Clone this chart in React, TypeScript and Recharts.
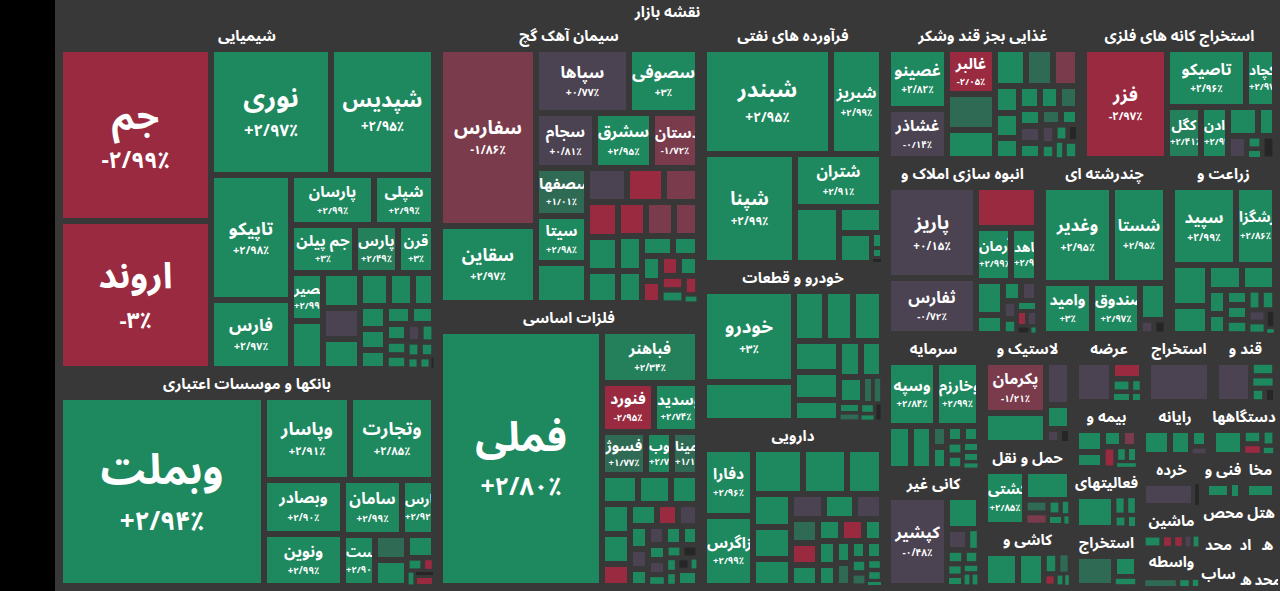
import React from 'react'
import { Treemap } from 'recharts'

// [symbol, size, change %]  (change null = no trade)
type Leaf = [string, number, number | null]

const FONT = '"Noto Sans Arabic", "DejaVu Sans", sans-serif'
const PHI = 0.5 * (1 + Math.sqrt(5))

// change levels
const G = 2.9
const g = 1.5
const P = 0.2
const r = -1.5
const R = -2.9
const D = null

const chemicals: Leaf[] = [
  ['جم', 26.0, -2.99], ['اروند', 22.3, -3], ['نوری', 15.2, 2.97], ['شپدیس', 12.9, 2.95],
  ['تاپیکو', 10.0, 2.98], ['فارس', 5.6, 2.97], ['پارسان', 4.15, 2.99], ['شپلی', 3.05, 2.99],
  ['جم پیلن', 3.1, 3], ['پارس', 2.05, 2.49], ['قرن', 1.8, 3], ['بصیر', 1.55, 2.99],
  ['', 1.5, G], ['', 1.3, G], ['', 1.15, P], ['', 1.1, G], ['', 0.95, G], ['', 0.8, G],
  ['', 0.7, G], ['', 0.6, G], ['', 0.55, G], ['', 0.5, G], ['', 0.45, G], ['', 0.4, G],
  ['', 0.35, G], ['', 0.3, G], ['', 0.3, G], ['', 0.25, P], ['', 0.25, G], ['', 0.2, G],
  ['', 0.2, G], ['', 0.15, G], ['', 0.15, G], ['', 0.1, D],
]

const banks: Leaf[] = [
  ['وبملت', 38.1, 2.94], ['وپاسار', 7.0, 2.91], ['وتجارت', 6.9, 2.85], ['وبصادر', 4.2, 2.9],
  ['ونوین', 4.1, 2.99], ['سامان', 3.2, 2.99], ['وپارس', 1.7, 2.92], ['وپست', 1.6, 2.9],
  ['', 0.8, g], ['', 0.8, G], ['', 0.62, G], ['', 0.2, G], ['', 0.15, R], ['', 0.12, G],
  ['', 0.1, D], ['', 0.1, R],
]

const cement: Leaf[] = [
  ['سفارس', 16.3, -1.86], ['سقاین', 7.1, 2.97], ['سپاها', 5.7, 0.77], ['سصوفی', 4.2, 3],
  ['سجام', 3.1, 0.81], ['سشرق', 3.0, 2.95], ['دستان', 2.4, -1.72], ['سصفها', 2.35, 1.01],
  ['سیتا', 2.3, 2.98], ['', 2.0, G], ['', 1.3, P], ['', 1.2, R], ['', 1.1, r], ['', 1.05, R],
  ['', 1.0, G], ['', 0.95, G], ['', 0.9, R], ['', 0.9, r], ['', 0.85, r], ['', 0.8, G],
  ['', 0.75, G], ['', 0.6, G], ['', 0.5, G], ['', 0.45, G], ['', 0.4, R], ['', 0.35, R],
  ['', 0.35, G], ['', 0.3, R], ['', 0.3, G], ['', 0.25, R], ['', 0.2, G],
]

const metals: Leaf[] = [
  ['فملی', 39.5, 2.8], ['فباهنر', 4.75, 2.34], ['فنورد', 2.45, -2.95], ['وسدید', 2.07, 2.74],
  ['فسوژ', 1.81, 1.77], ['ذوب', 1.08, 2.7], ['مینا', 1.08, 1.16], ['', 1.0, G], ['', 0.9, G],
  ['', 0.8, G], ['', 0.8, G], ['', 0.8, G], ['', 0.6, R], ['', 0.56, G], ['', 0.45, R],
  ['', 0.4, P], ['', 0.4, G], ['', 0.35, P], ['', 0.3, G], ['', 0.3, P], ['', 0.3, G],
  ['', 0.3, G], ['', 0.25, G], ['', 0.25, P], ['', 0.2, G], ['', 0.2, G], ['', 0.2, D],
  ['', 0.15, G], ['', 0.15, G], ['', 0.15, D], ['', 0.1, G], ['', 0.1, G],
]

const oil: Leaf[] = [
  ['شبندر', 13.05, 2.95], ['شبریز', 5.2, 2.99], ['شپنا', 9.7, 2.99], ['شتران', 4.5, 2.91],
  ['', 2.4, G], ['', 1.1, G], ['', 0.97, G], ['', 0.15, G], ['', 0.1, G], ['', 0.1, D],
]

const auto: Leaf[] = [
  ['خودرو', 7.7, 3], ['', 3.4, G], ['', 1.45, G], ['', 1.3, G], ['', 1.4, G], ['', 1.33, G],
  ['', 1.2, G], ['', 0.86, G], ['', 0.75, G], ['', 0.7, G], ['', 0.6, G], ['', 0.25, g],
  ['', 0.2, g], ['', 0.2, G], ['', 0.15, g], ['', 0.15, G], ['', 0.1, G], ['', 0.1, D],
]

const pharma: Leaf[] = [
  ['دفارا', 3.0, 2.96], ['زاگرس', 3.08, 2.99], ['', 2.05, G], ['', 1.8, G], ['', 1.4, G],
  ['', 1.15, G], ['', 1.1, G], ['', 0.9, G], ['', 0.76, P], ['', 0.7, G], ['', 0.6, P],
  ['', 0.6, g], ['', 0.55, R], ['', 0.5, G], ['', 0.45, G], ['', 0.45, R], ['', 0.4, G],
  ['', 0.4, G], ['', 0.35, G], ['', 0.3, G], ['', 0.3, g], ['', 0.25, G], ['', 0.25, G],
  ['', 0.2, G], ['', 0.2, g], ['', 0.15, G], ['', 0.15, G], ['', 0.1, G],
]

const food: Leaf[] = [
  ['غصینو', 3.3, 2.82], ['غشاذر', 2.75, -0.14], ['غالبر', 2.0, -2.05], ['', 1.6, g],
  ['', 1.33, G], ['', 1.05, G], ['', 0.93, g], ['', 0.9, r], ['', 0.6, G], ['', 0.55, G],
  ['', 0.5, G], ['', 0.45, G], ['', 0.4, G], ['', 0.4, g], ['', 0.35, G], ['', 0.35, P],
  ['', 0.3, G], ['', 0.3, g], ['', 0.25, G], ['', 0.25, P], ['', 0.2, G], ['', 0.2, G],
  ['', 0.15, D], ['', 0.15, G], ['', 0.1, G],
]

const mining: Leaf[] = [
  ['فزر', 9.24, -2.97], ['تاصیکو', 4.6, 2.96], ['کچاد', 1.75, 2.97], ['کگل', 1.8, 2.41],
  ['ادن', 1.43, 2.93], ['', 0.88, G], ['', 0.5, G], ['', 0.45, P], ['', 0.2, G],
  ['', 0.15, G], ['', 0.2, D],
]

const realEstate: Leaf[] = [
  ['پاریز', 7.8, 0.15], ['ثفارس', 4.7, -0.72], ['', 2.44, R], ['ثآرمان', 1.78, 2.99],
  ['ثشاهد', 1.34, 2.9], ['', 0.9, G], ['', 0.5, G], ['', 0.35, G], ['', 0.3, P],
  ['', 0.25, P], ['', 0.2, G], ['', 0.2, G], ['', 0.15, R], ['', 0.15, P], ['', 0.1, D],
  ['', 0.1, G],
]

const multi: Leaf[] = [
  ['وغدیر', 6.8, 2.95], ['شستا', 5.4, 2.95], ['وامید', 2.6, 3], ['وصندوق', 2.55, 2.97],
  ['', 1.0, G], ['', 0.2, P], ['', 0.1, D],
]

const agri: Leaf[] = [
  ['سپید', 4.7, 2.99], ['زشگزا', 2.8, 2.86], ['', 1.4, G], ['', 0.9, G], ['', 0.8, G],
  ['', 0.75, G], ['', 0.4, G], ['', 0.35, G], ['', 0.3, G], ['', 0.3, G], ['', 0.3, G],
  ['', 0.25, G], ['', 0.25, G], ['', 0.2, P], ['', 0.2, G], ['', 0.15, D], ['', 0.15, G],
]

const investment: Leaf[] = [
  ['وسپه', 2.94, 2.84], ['وخارزم', 2.64, 2.99], ['', 0.95, G], ['', 0.87, G], ['', 0.3, g],
  ['', 0.3, G], ['', 0.25, G], ['', 0.25, G], ['', 0.2, G], ['', 0.2, G], ['', 0.15, G],
  ['', 0.15, G], ['', 0.1, G],
]

const nonMetal: Leaf[] = [
  ['کپشیر', 5.4, -0.48], ['', 1.05, G], ['', 0.45, P], ['', 0.25, G], ['', 0.25, G],
  ['', 0.2, G], ['', 0.2, G], ['', 0.15, G], ['', 0.15, G], ['', 0.1, G], ['', 0.1, G],
]

const rubber: Leaf[] = [
  ['پکرمان', 3.3, -1.21], ['', 1.95, G], ['', 1.08, P], ['', 0.6, G], ['', 0.2, P], ['', 0.15, D],
]

const transport: Leaf[] = [
  ['کشتی', 2.2, 2.85], ['', 1.33, G], ['', 0.3, g], ['', 0.3, r], ['', 0.2, G],
  ['', 0.15, G], ['', 0.15, G], ['', 0.1, G],
]

const tiles: Leaf[] = [
  ['', 1.1, G], ['', 0.86, G], ['', 0.3, G], ['', 0.25, g], ['', 0.15, R], ['', 0.1, G], ['', 0.1, G],
]

const supply: Leaf[] = [['', 1.5, P], ['', 0.52, R], ['', 0.25, G], ['', 0.2, G], ['', 0.15, G], ['', 0.1, G]]
const extraction1: Leaf[] = [['', 2.2, P]]
const sugar: Leaf[] = [['', 1.45, P], ['', 0.35, G], ['', 0.3, G], ['', 0.2, G], ['', 0.15, D]]
const insurance: Leaf[] = [
  ['', 0.55, G], ['', 0.4, G], ['', 0.3, G], ['', 0.25, r], ['', 0.25, R], ['', 0.15, G],
  ['', 0.15, G], ['', 0.1, G],
]
const activities: Leaf[] = [['', 1.1, G], ['', 0.2, G], ['', 0.2, G], ['', 0.15, G], ['', 0.1, G]]
const extraction2: Leaf[] = [['', 1.08, g], ['', 0.45, G], ['', 0.2, G]]
const computer: Leaf[] = [['', 0.5, G], ['', 0.4, G], ['', 0.2, G], ['', 0.1, P]]
const devices: Leaf[] = [['', 0.55, G], ['', 0.2, G], ['', 0.15, R], ['', 0.15, G], ['', 0.1, G]]
const retail: Leaf[] = [['', 0.9, P], ['', 0.1, D]]
const machinery: Leaf[] = [['', 0.25, G], ['', 0.15, R], ['', 0.15, R], ['', 0.1, P], ['', 0.1, G]]
const brokers: Leaf[] = [['', 0.4, g], ['', 0.15, G], ['', 0.1, G]]
const engineering: Leaf[] = [['', 0.35, G], ['', 0.15, G]]
const telecom: Leaf[] = [['', 0.2, G]]
const products: Leaf[] = [['', 0.2, G]]
const hotels: Leaf[] = [['', 0.15, G]]

const sectorNames = [
  'شیمیایی', 'بانکها و موسسات اعتباری', 'سیمان آهک گچ', 'فلزات اساسی', 'فرآورده های نفتی',
  'خودرو و قطعات', 'دارویی', 'غذایی بجز قند وشکر', 'استخراج کانه های فلزی',
  'انبوه سازی املاک و', 'چندرشته ای', 'زراعت و', 'سرمایه', 'کانی غیر', 'لاستیک و',
  'حمل و نقل', 'کاشی و', 'عرضه', 'استخراج', 'قند و', 'بیمه و', 'فعالیتهای', 'استخراج',
  'رایانه', 'دستگاهها', 'خرده', 'ماشین', 'واسطه', 'فنی و', 'مخا', 'محص', 'هتل', 'محد',
  'ساب', 'اد', 'ه', 'ه', 'محد',
]

const sectorSizes = [
  132.2, 82.5, 74.4, 74.7, 44.5, 29.1, 30.4, 27.0, 27.2, 27.2, 22.6, 18.95, 13.1, 11.3, 9.9,
  7.5, 5.55, 4.9, 4.6, 4.5, 4.4, 4.0, 3.9, 3.7, 3.6, 3.2, 2.6, 2.5, 1.7, 1.5, 1.3, 1.1, 0.9,
  0.85, 0.8, 0.75, 0.5, 0.45,
]

const sectorLeaves: Leaf[][] = [
  chemicals, banks, cement, metals, oil, auto, pharma, food, mining, realEstate, multi, agri,
  investment, nonMetal, rubber, transport, tiles, supply, extraction1, sugar, insurance,
  activities, extraction2, computer, devices, retail, machinery, brokers, engineering, telecom,
  products, hotels, [], [], [], [], [], [],
]

// sectors whose cells follow the golden squarify ratio instead of 1
const goldenSectors = ['خودرو و قطعات']

const sectorData = sectorNames.map((name, i) => ({
  name,
  size: sectorSizes[i],
  ratio: goldenSectors.includes(name) ? PHI : 1,
  leaves: sectorLeaves[i].map(([n, value, change]) => ({ name: n, value, change })),
}))

const colorFor = (c: number | null) => {
  if (c === null || c === undefined) return '#262626'
  if (c >= 2.5) return '#1e885f'
  if (c >= 2) return '#23805b'
  if (c >= 1) return '#2f6a54'
  if (c > -1) return '#4b4252'
  if (c > -2) return '#7a3b4d'
  return '#9a2a40'
}

const faDigits = '۰۱۲۳۴۵۶۷۸۹'
const formatChange = (c: number) => {
  const abs = Math.abs(c)
  const s = Number.isInteger(abs) ? String(abs) : abs.toFixed(2)
  return (c < 0 ? '-' : '+') + s.replace(/\d/g, d => faDigits[+d]).replace('.', '/') + '٪'
}

// label size grows slowly for small cells, faster for the big ones
const labelSize = (w: number, h: number) => {
  const m = Math.min(w, h)
  const fn = m < 90 ? 12 + 0.08 * m : 19.2 + 0.32 * (m - 90)
  return Math.min(42, fn)
}

const LeafCell = (props: any) => {
  const { depth, x, y, width, height, name, change } = props
  if (depth !== 1 || !(width > 0) || !(height > 0)) return null
  const ins = Math.min(3, width * 0.2, height * 0.2)
  const w = width - ins * 2
  const h = height - ins * 2
  const fn = labelSize(w, h)
  const fp = Math.max(9.5, fn * 0.62)
  return (
    <g>
      <rect x={x + ins} y={y + ins} width={w} height={h} fill={colorFor(change)} />
      {name && w > 12 && h > 18 && (
        <foreignObject x={x + ins} y={y + ins} width={w} height={h}>
          <div
            style={{
              width: w,
              height: h,
              overflow: 'hidden',
              display: 'flex',
              flexDirection: 'column',
              justifyContent: 'center',
              color: '#fff',
              textAlign: 'center',
              whiteSpace: 'nowrap',
              fontFamily: FONT,
              fontWeight: 'bold',
            }}>
            <div style={{ fontSize: fn, lineHeight: 1.25 }}>{name}</div>
            <div style={{ fontSize: fp, lineHeight: 1.25, marginTop: fn * 0.2 }}>
              {formatChange(change)}
            </div>
          </div>
        </foreignObject>
      )}
    </g>
  )
}

const SectorCell = (props: any) => {
  const { depth, x, y, width, height, name, leaves, ratio } = props
  if (depth !== 1 || !leaves) return null
  const iw = width - 6
  const ih = height - 28
  return (
    <g>
      <text
        x={x + width / 2}
        y={y + 12}
        textAnchor='middle'
        dominantBaseline='central'
        fill='#fff'
        fontSize={15}
        fontWeight='bold'
        fontFamily={FONT}>
        {name}
      </text>
      {leaves.length > 0 && iw > 4 && ih > 4 && (
        <foreignObject x={x + 3} y={y + 25} width={iw} height={ih}>
          <Treemap
            width={iw}
            height={ih}
            data={leaves}
            dataKey='value'
            aspectRatio={ratio}
            isAnimationActive={false}
            content={LeafCell}
          />
        </foreignObject>
      )}
    </g>
  )
}

const App = () => {
  return (
    <div style={{ position: 'relative', width: 1280, height: 591, background: '#000', overflow: 'hidden' }}>
      <style>{'body{margin:0}'}</style>
      <div style={{ position: 'absolute', left: 55, top: 0, width: 1225, height: 591, background: '#383838' }} />
      <div
        style={{
          position: 'absolute',
          left: 55,
          top: 2,
          width: 1225,
          textAlign: 'center',
          color: '#fff',
          fontFamily: FONT,
          fontWeight: 'bold',
          fontSize: 15,
          lineHeight: '20px',
        }}>
        نقشه بازار
      </div>
      <div style={{ position: 'absolute', left: 57, top: 24 }}>
        <Treemap
          width={1221}
          height={565}
          data={sectorData}
          dataKey='size'
          aspectRatio={1}
          isAnimationActive={false}
          content={SectorCell}
        />
      </div>
    </div>
  )
}

export default App
